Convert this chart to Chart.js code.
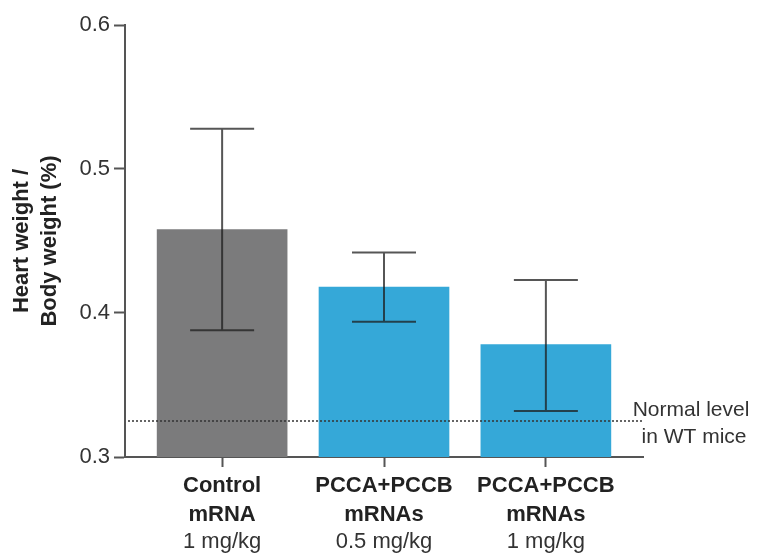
<!DOCTYPE html>
<html>
<head>
<meta charset="utf-8">
<script src="https://cdn.jsdelivr.net/npm/chart.js@4"></script>
<style>
  html, body { margin: 0; padding: 0; background: #fff; }
  #wrap { width: 759px; height: 557px; }
</style>
</head>
<body>
<div id="wrap"><canvas id="hwChart" width="759" height="557"></canvas></div>
<script>
// data
const groupNames = [["Control", "mRNA"], ["PCCA+PCCB", "mRNAs"], ["PCCA+PCCB", "mRNAs"]];
const doses = ["1 mg/kg", "0.5 mg/kg", "1 mg/kg"];
const means = [0.458, 0.418, 0.378];
const errHigh = [0.528, 0.442, 0.423];
const errLow = [0.388, 0.394, 0.332];
const barColors = ["#7b7b7c", "#35a8d8", "#35a8d8"];
const yTicks = [0.3, 0.4, 0.5, 0.6];
const normalLevel = 0.325;
const normalLabel = ["Normal level", "in WT mice"];

const FONT = "'Liberation Sans', Arial, Helvetica, sans-serif";

const errorBars = {
  id: "errorBars",
  afterDatasetsDraw(chart) {
    const { ctx, scales } = chart;
    const x = scales.x, y = scales.y;
    ctx.save();
    ctx.strokeStyle = "rgba(30,30,30,0.75)";
    ctx.lineWidth = 2;
    means.forEach((m, i) => {
      const cx = x.getPixelForValue(i);
      const top = y.getPixelForValue(errHigh[i]);
      const bot = y.getPixelForValue(errLow[i]);
      ctx.beginPath();
      ctx.moveTo(cx, top); ctx.lineTo(cx, bot);
      ctx.moveTo(cx - 32, top); ctx.lineTo(cx + 32, top);
      ctx.moveTo(cx - 32, bot); ctx.lineTo(cx + 32, bot);
      ctx.stroke();
    });

    // dotted normal-level line
    const ny = y.getPixelForValue(normalLevel);
    ctx.strokeStyle = "#333";
    ctx.lineWidth = 1.5;
    ctx.setLineDash([2, 2]);
    ctx.beginPath();
    ctx.moveTo(chart.chartArea.left + 3, ny);
    ctx.lineTo(chart.chartArea.right, ny);
    ctx.stroke();
    ctx.setLineDash([]);

    ctx.fillStyle = "#333";
    ctx.font = "21px " + FONT;
    ctx.textAlign = "center";
    ctx.textBaseline = "middle";
    ctx.fillText(normalLabel[0], 691, ny - 11);
    ctx.fillText(normalLabel[1], 694, ny + 16);
    ctx.restore();
  }
};

const ctx = document.getElementById("hwChart").getContext("2d");
new Chart(ctx, {
  type: "bar",
  data: {
    datasets: [{
      data: means.map((v, i) => ({ x: i, y: v })),
      backgroundColor: barColors,
      borderWidth: 0,
      barThickness: 130
    }]
  },
  options: {
    responsive: false,
    animation: false,
    layout: { padding: { top: 25, right: 116, left: 0, bottom: 0 } },
    plugins: { legend: { display: false }, tooltip: { enabled: false } },
    scales: {
      x: {
        type: "linear",
        position: "bottom",
        offset: false,
        min: -0.6,
        max: 2.6,
        afterBuildTicks: (s) => { s.ticks = groupNames.map((_, i) => ({ value: i })); },
        afterFit: (s) => { s.height = 71; },
        border: { display: true, color: "#555", width: 2 },
        grid: { offset: false, drawOnChartArea: false, drawTicks: true, tickLength: 10, tickColor: "#555", tickWidth: 2 },
        ticks: {
          autoSkip: false,
          maxRotation: 0,
          padding: 5,
          color: "#222",
          font: { family: FONT, size: 22, weight: "bold", lineHeight: 1.3 },
          callback: (v) => groupNames[v]
        }
      },
      x2: {
        type: "linear",
        position: "bottom",
        offset: false,
        min: -0.6,
        max: 2.6,
        afterBuildTicks: (s) => { s.ticks = doses.map((_, i) => ({ value: i })); },
        afterFit: (s) => { s.height = 29; },
        border: { display: false },
        grid: { display: false, offset: false, drawTicks: false, tickLength: 0 },
        ticks: {
          autoSkip: false,
          maxRotation: 0,
          padding: 0,
          color: "#333",
          font: { family: FONT, size: 22, lineHeight: 1.3 },
          callback: (v) => doses[v]
        }
      },
      y: {
        min: 0.3,
        max: 0.6,
        afterBuildTicks: (s) => { s.ticks = yTicks.map((v) => ({ value: v })); },
        afterFit: (s) => { s.width = 125; },
        border: { display: true, color: "#555", width: 2 },
        grid: { drawOnChartArea: false, drawTicks: true, tickLength: 11, tickColor: "#555", tickWidth: 2 },
        ticks: {
          padding: 4,
          color: "#333",
          font: { family: FONT, size: 22 },
          callback: (v) => v.toFixed(1)
        },
        title: {
          display: true,
          text: ["Heart weight /", "Body weight (%)"],
          color: "#222",
          font: { family: FONT, size: 22, weight: "bold", lineHeight: 1.27 },
          padding: { top: 8, bottom: 0 }
        }
      }
    }
  },
  plugins: [errorBars]
});
</script>
</body>
</html>
